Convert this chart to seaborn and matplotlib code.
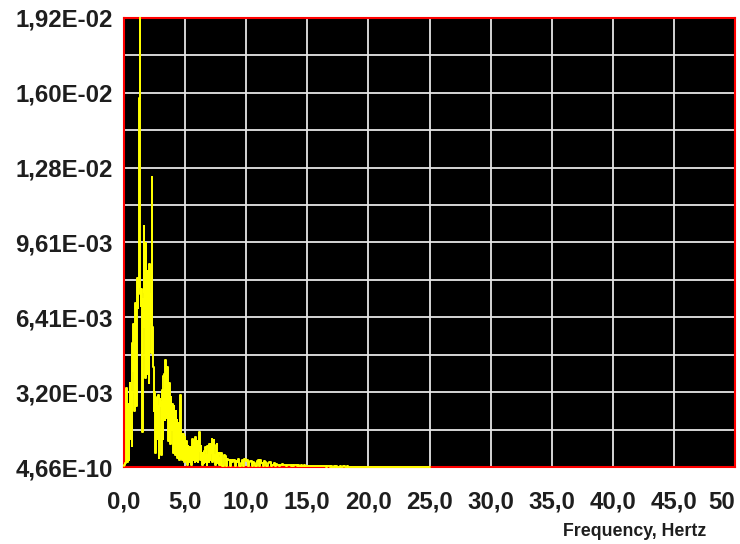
import numpy as np
import matplotlib
matplotlib.use("Agg")
import matplotlib.pyplot as plt
import seaborn as sns

# Low band: 0.00-7.95 Hz in 0.05 Hz bins, one row per hertz (units of 1e-3)
low_rows = [
    [0.05, 0.1, 0.15, 0.3, 3.4, 0.4, 0.2, 2.7, 0.3, 2.2,
     3.6, 1.2, 3.2, 0.9, 5.3, 4.1, 6.1, 2.4, 5.8, 7.0],
    [2.6, 7.3, 8.1, 6.8, 7.7, 15.8, 19.2, 7.4, 6.9, 7.6,
     1.5, 7.2, 6.0, 10.3, 7.5, 3.8, 9.6, 7.0, 4.0, 8.4],
    [7.1, 3.6, 8.7, 6.2, 7.4, 4.9, 12.4, 6.0, 4.3, 2.4,
     3.2, 2.7, 0.6, 2.9, 1.2, 3.0, 3.1, 0.4, 2.6, 2.9],
    [2.8, 0.5, 3.1, 3.3, 1.2, 3.9, 4.0, 2.0, 4.6, 4.5,
     2.1, 4.3, 3.8, 1.1, 3.6, 3.2, 1.0, 3.0, 1.6, 2.7],
    [2.4, 0.6, 2.6, 2.2, 0.5, 2.4, 1.3, 2.0, 0.4, 1.9,
     1.5, 0.3, 3.1, 1.5, 0.4, 1.4, 0.3, 1.4, 1.3, 0.2],
    [1.3, 0.3, 1.1, 0.6, 0.1, 0.9, 0.85, 0.2, 0.4, 0.85,
     0.1, 1.0, 1.2, 0.3, 1.0, 1.1, 0.2, 1.3, 0.8, 0.25],
    [1.1, 0.2, 0.7, 1.2, 1.5, 0.3, 0.9, 0.6, 0.1, 0.4,
     0.6, 0.15, 0.7, 0.85, 0.2, 0.5, 0.1, 0.9, 0.85, 0.2],
    [1.0, 0.3, 0.6, 1.0, 1.2, 0.2, 0.9, 1.15, 0.3, 0.5,
     0.1, 0.95, 1.0, 0.15, 0.6, 0.4, 0.1, 0.6, 0.55, 0.1],
]
# High band: 8.0-25.0 Hz in 0.1 Hz bins, one row per hertz (units of 1e-3)
high_rows = [
    [0.6, 0.05, 0.5, 0.45, 0.05, 0.35, 0.3, 0.05, 0.3, 0.2],
    [0.3, 0.05, 0.25, 0.2, 0.35, 0.05, 0.15, 0.3, 0.05, 0.35],
    [0.25, 0.3, 0.05, 0.2, 0.25, 0.05, 0.2, 0.15, 0.05, 0.25],
    [0.3, 0.05, 0.3, 0.15, 0.05, 0.25, 0.2, 0.05, 0.15, 0.2],
    [0.2, 0.05, 0.1, 0.15, 0.03, 0.12, 0.1, 0.03, 0.07, 0.1],
    [0.12, 0.08, 0.1, 0.06, 0.09, 0.07, 0.1, 0.06, 0.08, 0.05],
    [0.07, 0.09, 0.06, 0.07, 0.05, 0.08, 0.06, 0.05, 0.07, 0.04],
    [0.05, 0.04, 0.05, 0.03, 0.04, 0.05, 0.03, 0.04, 0.03, 0.04],
    [0.03, 0.03, 0.04, 0.03, 0.03, 0.04, 0.02, 0.03, 0.03, 0.02],
    [0.03, 0.02, 0.03, 0.02, 0.03, 0.02, 0.02, 0.03, 0.02, 0.02],
    [0.03, 0.02, 0.02, 0.03, 0.02, 0.02, 0.02, 0.01, 0.02, 0.02],
    [0.02, 0.02, 0.01, 0.02, 0.01, 0.02, 0.01, 0.01, 0.02, 0.01],
    [0.01, 0.02, 0.01, 0.01, 0.02, 0.01, 0.01, 0.01, 0.02, 0.01],
    [0.01, 0.01, 0.02, 0.01, 0.01, 0.01, 0.02, 0.01, 0.01, 0.01],
    [0.02, 0.01, 0.01, 0.01, 0.01, 0.02, 0.01, 0.01, 0.01, 0.01],
    [0.01, 0.02, 0.01, 0.01, 0.01, 0.01, 0.01, 0.02, 0.01, 0.01],
    [0.01, 0.01, 0.01, 0.02, 0.01, 0.01, 0.01, 0.01, 0.01, 0.02],
    [0.01],
]
low_amp = np.concatenate([np.asarray(r, dtype=float) for r in low_rows])
high_amp = np.concatenate([np.asarray(r, dtype=float) for r in high_rows])
low_freq = np.linspace(0.0, 7.95, low_amp.size)
high_freq = np.linspace(8.0, 25.0, high_amp.size)
frequency = np.concatenate([low_freq, high_freq])
amplitude = np.concatenate([low_amp, high_amp]) * 1e-3

x_ticks = [0, 5, 10, 15, 20, 25, 30, 35, 40, 45, 50]
x_tick_labels = ["0,0", "5,0", "10,0", "15,0", "20,0", "25,0",
                 "30,0", "35,0", "40,0", "45,0", "50"]
y_min, y_max = 4.66e-10, 1.922e-2
y_tick_labels = ["4,66E-10", "", "3,20E-03", "", "6,41E-03", "", "9,61E-03",
                 "", "1,28E-02", "", "1,60E-02", "", "1,92E-02"]
x_label = "Frequency, Hertz"

sns.set_style("white")
plt.rcParams["font.family"] = ["Liberation Sans", "DejaVu Sans"]

W, H = 740, 544
fig = plt.figure(figsize=(W / 100, H / 100), dpi=100, facecolor="white")
ax = fig.add_axes([124 / W, (H - 467) / H, 611 / W, 449 / H])
ax.set_facecolor("black")

sns.lineplot(x=frequency, y=amplitude, ax=ax, color="#ffff00", linewidth=1.4,
             drawstyle="steps-mid", zorder=3, clip_on=False,
             estimator=None, sort=False)

ax.set_xlim(0, 50)
ax.set_ylim(y_min, y_max)
ax.set_xticks(x_ticks)
ax.set_xticklabels(x_tick_labels)
ax.set_yticks(np.linspace(y_min, y_max, len(y_tick_labels)))
ax.set_yticklabels(y_tick_labels)

ax.grid(True, color="#e6e6e6", linewidth=1.3)
ax.set_axisbelow(True)
ax.tick_params(axis="both", length=0, labelsize=17.3, labelcolor="#1e1e1e")
ax.tick_params(axis="y", pad=8)
ax.tick_params(axis="x", pad=17)
for lbl in ax.get_xticklabels() + ax.get_yticklabels():
    lbl.set_fontweight("bold")
# the final "50" sits flush with the right border
ax.get_xticklabels()[-1].set_horizontalalignment("right")

for side in ["left", "right", "top", "bottom"]:
    ax.spines[side].set_visible(True)
    ax.spines[side].set_color("#ff0000")
    ax.spines[side].set_linewidth(1.5)

ax.set_xlabel(x_label, fontsize=12.8, fontweight="bold", color="#1e1e1e")
ax.xaxis.set_label_coords(0.836, -0.124)
ax.xaxis.label.set_va("top")

fig.savefig("out.png", dpi=100, facecolor="white")
